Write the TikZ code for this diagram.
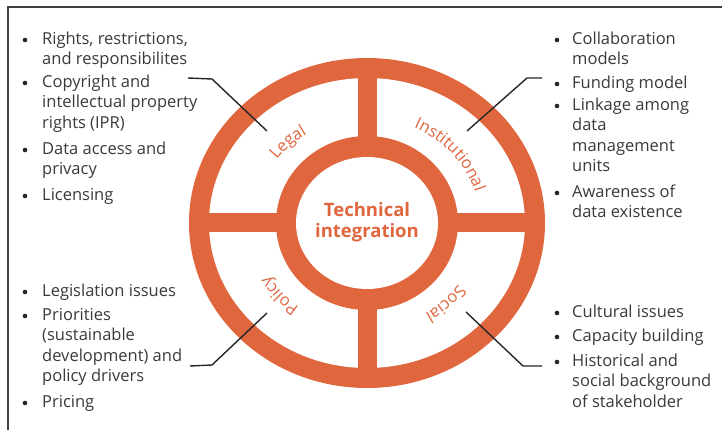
\documentclass[tikz,border=0pt]{standalone}
\usepackage{fontspec}
\setmainfont{Open Sans}
\usetikzlibrary{decorations.text}
\definecolor{orng}{RGB}{224,102,62}
\definecolor{txt}{RGB}{58,58,58}
\newcommand\lblfont{\fontsize{16.5}{16.5}\selectfont}
\begin{document}
\begin{tikzpicture}[x=1pt,y=1pt,
  itm/.style={anchor=north west, inner sep=0pt, align=left, text=txt, font=\fontsize{16.5}{20.5}\selectfont},
  bul/.style={circle, fill=black!85, inner sep=0pt, minimum size=4.6pt},
  conn/.style={draw=black!85, line width=1.4pt},
  lbl/.style={decorate, decoration={text along path, text align=center, text color=orng}}]
\useasboundingbox (0,0) rectangle (722,429);
\clip (0,0) rectangle (722,429);
\fill[white] (0,0) rectangle (722,429);
\draw[line width=1.6pt, black!75] (8,-10) -- (8,422) -- (740,422);

% ring
\coordinate (c) at (367,206);
\fill[orng] (c) ellipse [x radius=178, y radius=165];
\fill[white] (c) ellipse [x radius=158, y radius=145];
\fill[orng] (358,50) rectangle (377,362);
\fill[orng] (200,197) rectangle (534,216);
\fill[orng] (c) ellipse [x radius=91, y radius=87];
\fill[white] (c) ellipse [x radius=71, y radius=66];
\node[font=\fontsize{18.5}{21}\selectfont\bfseries, text=orng, align=center, inner sep=0pt] (tech) at (367,207) {Technical\\integration};

% curved labels
\path[lbl, decoration={text={|\lblfont|Legal}}] ([shift={(c)}]194:113 and 105) arc[start angle=194, end angle=74, x radius=113, y radius=105];
\path[lbl, decoration={text={|\lblfont|Institutional}}] ([shift={(c)}]100:113 and 105) arc[start angle=100, end angle=-20, x radius=113, y radius=105];
\path[lbl, decoration={text={|\lblfont|Policy}}] ([shift={(c)}]280:113 and 105) arc[start angle=280, end angle=160, x radius=113, y radius=105];
\path[lbl, decoration={text={|\lblfont|Social}}] ([shift={(c)}]14:113 and 105) arc[start angle=14, end angle=-106, x radius=113, y radius=105];

% top-left list
\node[bul] (b1) at (25,389) {};
\node[itm] (t1) at (42,399.35) {\strut Rights, restrictions,\\and responsibilites};
\node[bul] (b2) at (25,346) {};
\node[itm] (t2) at (42,356.35) {\strut Copyright and\\intellectual property\\rights (IPR)};
\node[bul] (b3) at (25,279) {};
\node[itm] (t3) at (42,289.35) {\strut Data access and\\privacy};
\node[bul] (b4) at (25,233) {};
\node[itm] (t4) at (42,243.35) {\strut Licensing};

% top-right list
\node[bul] (b5) at (557,389) {};
\node[itm] (t5) at (572,399.35) {\strut Collaboration\\models};
\node[bul] (b6) at (557,345) {};
\node[itm] (t6) at (572,355.35) {\strut Funding model};
\node[bul] (b7) at (557,323) {};
\node[itm] (t7) at (572,333.35) {\strut Linkage among\\data\\management\\units};
\node[bul] (b8) at (557,236) {};
\node[itm] (t8) at (572,246.35) {\strut Awareness of\\data existence};

% bottom-left list
\node[bul] (b9) at (25,137) {};
\node[itm] (t9) at (42,147.35) {\strut Legislation issues};
\node[bul] (b10) at (25,113) {};
\node[itm] (t10) at (42,123.35) {\strut Priorities\\(sustainable\\development) and\\policy drivers};
\node[bul] (b11) at (25,26) {};
\node[itm] (t11) at (42,36.35) {\strut Pricing};

% bottom-right list
\node[bul] (b12) at (557,116) {};
\node[itm] (t12) at (572,126.35) {\strut Cultural issues};
\node[bul] (b13) at (557,92) {};
\node[itm] (t13) at (572,102.35) {\strut Capacity building};
\node[bul] (b14) at (557,67) {};
\node[itm] (t14) at (572,77.35) {\strut Historical and\\social background\\of stakeholder};

% connectors
\coordinate (lA) at (188,351); \coordinate (lB) at (212,350); \coordinate (lC) at (267,298);
\coordinate (iA) at (542,351); \coordinate (iB) at (527,351); \coordinate (iC) at (467,298);
\coordinate (pA) at (190,63);  \coordinate (pB) at (212,64);  \coordinate (pC) at (267,116);
\coordinate (sA) at (542,63);  \coordinate (sB) at (523,63);  \coordinate (sC) at (466,117);
\draw[conn] (lA) -- (lB) -- (lC);
\draw[conn] (iA) -- (iB) -- (iC);
\draw[conn] (pA) -- (pB) -- (pC);
\draw[conn] (sA) -- (sB) -- (sC);
\end{tikzpicture}
\end{document}
